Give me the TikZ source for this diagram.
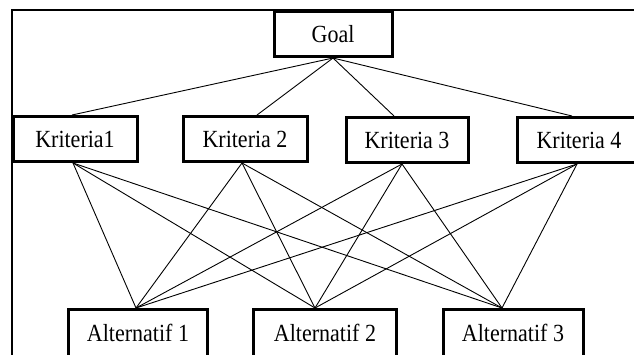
\documentclass[tikz,border=0pt]{standalone}
\usepackage{fontspec}
\setmainfont{Liberation Serif}
\usepackage{tikz}
\usetikzlibrary{positioning}
\newcommand{\boxtext}[1]{\scalebox{1}[1.12]{#1}}

\begin{document}
\begin{tikzpicture}[x=1pt,y=-1pt,
  box/.style={draw,line width=3pt,inner sep=0pt,minimum height=45pt,
              font=\fontsize{22}{24}\selectfont},
  link/.style={line width=0.9pt}]
  \useasboundingbox (0,0) rectangle (634,354);
  \clip (0,0) rectangle (634,354);
  % outer frame (cut off at the right and bottom)
  \draw[line width=1.8pt] (12,370) -- (12,10) -- (650,10);
  % goal
  \node[box,minimum width=118pt] (goal) at (333,34) {\boxtext{Goal}};
  % criteria
  \node[box,minimum width=124pt] (k1) at (75,139) {\boxtext{Kriteria1}};
  \node[box,minimum width=124pt] (k2) at (245,139) {\boxtext{Kriteria 2}};
  \node[box,minimum width=122pt] (k3) at (407,140) {\boxtext{Kriteria 3}};
  \node[box,minimum width=124pt] (k4) at (579,140) {\boxtext{Kriteria 4}};
  % alternatives
  \node[box,minimum width=139pt,minimum height=47pt] (a1) at (138,333) {\boxtext{Alternatif 1}};
  \node[box,minimum width=143pt,minimum height=47pt] (a2) at (325,333) {\boxtext{Alternatif 2}};
  \node[box,minimum width=140pt,minimum height=47pt] (a3) at (513,333) {\boxtext{Alternatif 3}};
  % connection points, a little off the centres as in the original
  \coordinate (k1t) at ([xshift=-3pt]k1.north);
  \coordinate (k2t) at ([xshift=12pt]k2.north);
  \coordinate (k3t) at ([xshift=-13pt]k3.north);
  \coordinate (k4t) at ([xshift=-7pt]k4.north);
  \coordinate (k1b) at ([xshift=-2pt]k1.south);
  \coordinate (k2b) at ([xshift=-3pt]k2.south);
  \coordinate (k3b) at ([xshift=-5pt]k3.south);
  \coordinate (k4b) at ([xshift=-2pt]k4.south);
  \coordinate (a1t) at ([xshift=-2pt]a1.north);
  \coordinate (a2t) at ([xshift=-10pt]a2.north);
  \coordinate (a3t) at ([xshift=-11pt]a3.north);
  % connectors
  \foreach \k in {k1t,k2t,k3t,k4t}
    \draw[link] (goal.south) -- (\k);
  \foreach \k in {k1b,k2b,k3b,k4b}
    \foreach \a in {a1t,a2t,a3t}
      \draw[link] (\k) -- (\a);
\end{tikzpicture}
\end{document}
